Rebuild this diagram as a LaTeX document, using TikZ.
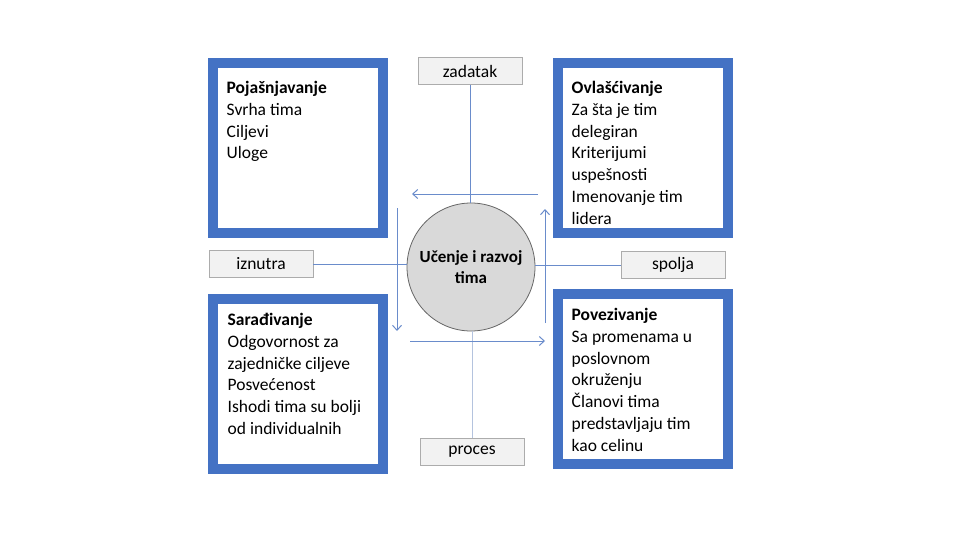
\documentclass[tikz,border=0pt]{standalone}
\usepackage{fontspec}
\setmainfont{Carlito}
\usepackage{tikz}
\usetikzlibrary{positioning, arrows.meta}

\definecolor{frameblue}{HTML}{4472C4}
\definecolor{lineblue}{HTML}{6A8CCB}
\definecolor{paleline}{HTML}{B4C3DE}

\begin{document}
\begin{tikzpicture}[
  x=1pt, y=-1pt,
  >={Straight Barb[length=5pt, width=9pt]},
  quad/.style={rectangle, draw=frameblue, line width=10pt, fill=white,
    minimum width=170pt, minimum height=170pt, inner sep=0pt},
  txt/.style={anchor=north west, align=left, inner sep=0pt,
    font=\fontsize{17.5}{21.8}\selectfont},
  tag/.style={rectangle, draw=gray!65, fill=gray!10,
    minimum width=104pt, minimum height=27pt, font=\fontsize{17.5}{19}\selectfont},
  hub/.style={circle, draw=gray!80!black, fill=gray!30, thick,
    minimum size=128pt, inner sep=0pt, align=center,
    font=\fontsize{17}{21}\selectfont\bfseries},
  link/.style={lineblue, line width=1pt},
  arr/.style={->, lineblue, line width=1pt},
]
\useasboundingbox (0,0) rectangle (960,540);

% --- Centre ---
\node[hub] (hub) at (471,267) {U\v{c}enje i razvoj\\tima};

% --- Corner boxes ---
\node[quad] (tl) at (297.5,148) {};
\node[quad] (tr) at (642.5,148) {};
\node[quad] (bl) at (297.5,384) {};
\node[quad] (br) at (642.5,379) {};

\node[txt] (tlt) at ([xshift=19pt, yshift=-23pt]tl.north west)
  {\textbf{Poja\v{s}njavanje}\\Svrha tima\\Ciljevi\\Uloge};
\node[txt] (trt) at ([xshift=19pt, yshift=-23pt]tr.north west)
  {\textbf{Ovla\v{s}\'{c}ivanje}\\Za \v{s}ta je tim\\delegiran\\Kriterijumi\\
   uspe\v{s}nosti\\Imenovanje tim\\lidera};
\node[txt] (blt) at ([xshift=20pt, yshift=-19pt]bl.north west)
  {\textbf{Sara\dj ivanje}\\Odgovornost za\\zajedni\v{c}ke ciljeve\\
   Posve\'{c}enost\\Ishodi tima su bolji\\od individualnih};
\node[txt] (brt) at ([xshift=19pt, yshift=-19pt]br.north west)
  {\textbf{Povezivanje}\\Sa promenama u\\poslovnom\\okru\v{z}enju\\
   \v{C}lanovi tima\\predstavljaju tim\\kao celinu};

% --- Axis labels ---
\node[tag] (zad) at (470,71)  {zadatak};
\node[tag] (pro) at (472,452) {proces};
\node[tag] (izn) at (261,264) {iznutra};
\node[tag] (spo) at (673,265) {spolja};

\draw[link] (zad.south) -- (zad.south |- hub.north);
\draw[paleline, line width=1pt] (pro.north |- hub.south) -- (pro.north);
\draw[link] (izn.east) -- (izn.east -| hub.west);
\draw[link] (spo.west -| hub.east) -- (spo.west);

% --- Cycle arrows ---
\coordinate (topR) at (538,194);
\coordinate (topL) at (412,194);
\coordinate (lefT) at (397,208);
\coordinate (lefB) at (397,331);
\coordinate (botL) at (410,341);
\coordinate (botR) at (545,341);
\coordinate (rigB) at (545,323);
\coordinate (rigT) at (545,209);

\draw[arr] (topR) -- (topL);
\draw[arr] (lefT) -- (lefB);
\draw[arr] (botL) -- (botR);
\draw[arr] (rigB) -- (rigT);

\end{tikzpicture}
\end{document}
